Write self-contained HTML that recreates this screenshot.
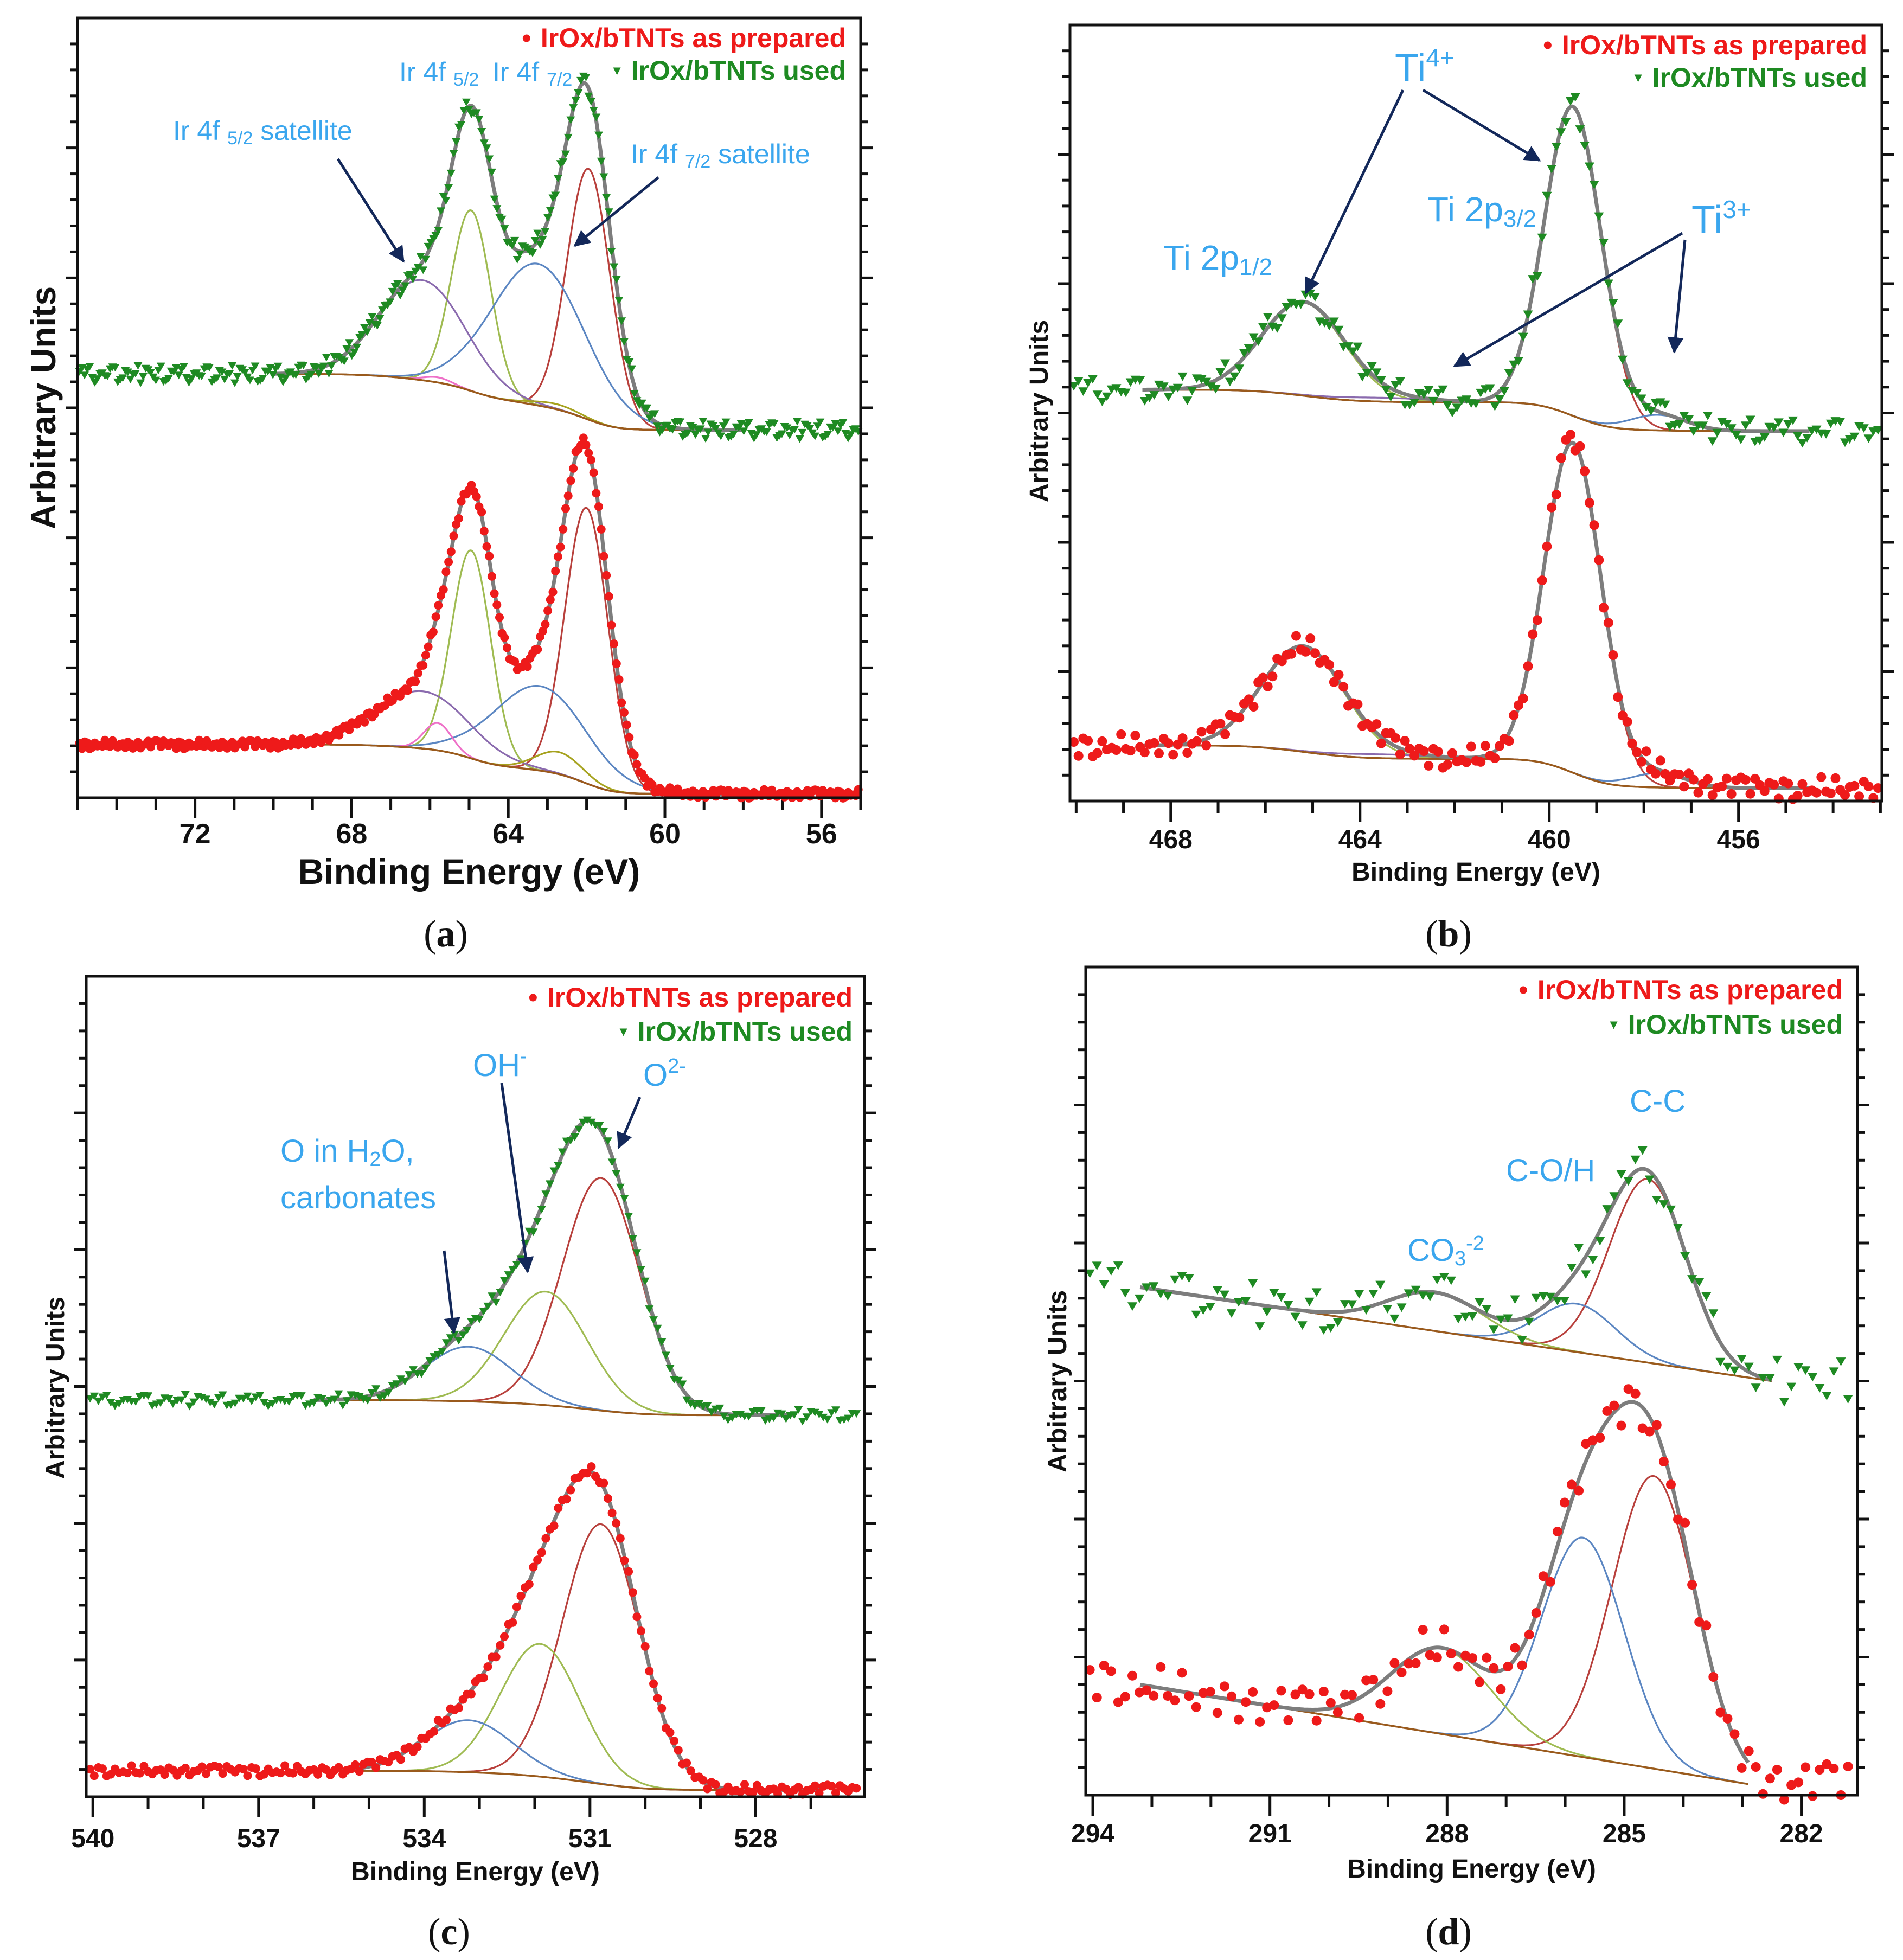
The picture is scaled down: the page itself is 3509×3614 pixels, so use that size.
<!DOCTYPE html>
<html><head><meta charset="utf-8"><title>XPS spectra IrOx/bTNTs</title>
<style>
html,body{margin:0;padding:0;background:#fff;}
svg{display:block;}
text{font-family:"Liberation Sans",Arial,sans-serif;}
</style></head>
<body>
<svg id="chart" xmlns="http://www.w3.org/2000/svg" width="3509" height="3614" viewBox="0 0 3509 3614">
<defs>
<marker id="ah" viewBox="0 0 10 10" refX="9" refY="5" markerWidth="6" markerHeight="6" orient="auto-start-reverse" markerUnits="strokeWidth"><path d="M0,0 L10,5 L0,10 Z" fill="#13285a"/></marker>
</defs>
<rect x="0" y="0" width="3509" height="3614" fill="#fff"/>
</svg>
<script>
// ---------- data ----------
const noisePattern=[0.3,-0.6,0.9,-0.2,0.5,-0.9,0.1,0.7,-0.4,-0.8,0.6,0.2,-0.5,0.95,-0.1,0.4,-0.7,0.8,-0.3,0.05,-0.95,0.55,0.25,-0.45,0.75,-0.65,0.15,-0.25,0.85,-0.55,0.35,-0.85,0.45,-0.15,0.65,-0.35,0.0];

// panel (a) Ir 4f
const aXTickLabels=[72,68,64,60,56];
const aUsedCenters=[61.95,64.95,63.25,66.2,65.8,62.8];
const aUsedHeights=[19.3,13.9,10.9,7.7,0.4,0.4];
const aUsedSigmas=[0.55,0.5,1.2,1.1,0.35,0.6];
const aUsedBg=[32.6,28.3];
const aPrepCenters=[62.0,64.95,63.2,66.2,65.8,62.7];
const aPrepHeights=[21.2,16.0,6.5,4.4,2.1,1.7];
const aPrepSigmas=[0.55,0.5,1.2,1.2,0.35,0.6];
const aPrepBg=[4.1,0.3];

// panel (b) Ti 2p
const bXTickLabels=[468,464,460,456];
const bUsedCenters=[459.5,465.2,457.7,463.5];
const bUsedHeights=[23.9,7.2,1.2,0.3];
const bUsedSigmas=[0.6,0.87,0.6,1.0];
const bUsedBg=[31.8,28.6];
const bPrepCenters=[459.5,465.2,457.7,463.5];
const bPrepHeights=[25.5,8.1,1.1,0.3];
const bPrepSigmas=[0.6,0.87,0.6,1.0];
const bPrepBg=[4.3,1.0];

// panel (c) O 1s
const cXTickLabels=[540,537,534,531,528];
const cUsedCenters=[530.8,531.8,533.2];
const cUsedHeights=[17.0,8.3,4.0];
const cUsedSigmas=[0.7,0.75,0.8];
const cUsedBg=[29.0,27.9];
const cPrepCenters=[530.8,531.9,533.2];
const cPrepHeights=[19.0,9.7,3.8];
const cPrepSigmas=[0.7,0.72,0.8];
const cPrepBg=[1.9,0.5];

// panel (d) C 1s
const dXTickLabels=[294,291,288,285,282];
const dUsedCenters=[284.6,285.8,288.2];
const dUsedHeights=[13.3,3.5,2.8];
const dUsedSigmas=[0.65,0.65,0.8];
const dUsedBg=[36.8,30.0];
const dPrepCenters=[284.5,285.7,288.1];
const dPrepHeights=[21.2,15.9,6.2];
const dPrepSigmas=[0.7,0.7,0.85];
const dPrepBg=[8.0,0.8];

// ---------- rendering ----------
const NS='http://www.w3.org/2000/svg';
const svg=document.getElementById('chart');
function mk(tag,attrs,parent){const e=document.createElementNS(NS,tag);for(const k in attrs)e.setAttribute(k,attrs[k]);(parent||svg).appendChild(e);return e;}
function gauss(x,c,h,s){return h*Math.exp(-(x-c)*(x-c)/(2*s*s));}
function peakSum(x,C,H,S){let t=0;for(let i=0;i<C.length;i++)t+=gauss(x,C[i],H[i],S[i]);return t;}
function makeBg(type,C,H,S,xl,xr,L,R){
  if(type==='linear'){return x=>{const xx=Math.max(xr,x);return R+(L-R)*(xx-xr)/(xl-xr);};}
  const N=800,cum=[0];
  for(let i=1;i<=N;i++){const x=xr+(xl-xr)*i/N;cum.push(cum[i-1]+peakSum(x,C,H,S));}
  const tot=cum[N];
  return x=>{if(x>=xl)return L;if(x<=xr)return R;const i=Math.round((x-xr)/(xl-xr)*N);return R+(L-R)*cum[i]/tot;};
}
const compColors=['#b8403c','#9fbb52','#5b86c2','#8a6aae','#ee70c8','#a6a21e'];
const compColorsD=['#b8403c','#5b86c2','#9fbb52'];

function drawPanel(P){
  const g=mk('g',{});
  
  
  const colors=P.colors||compColors;
  const X=x=>P.bx0+(P.xl-x)/(P.xl-P.xr)*(P.bx1-P.bx0);
  const Y=v=>P.by1-v/P.yMax*(P.by1-P.by0);
  for(let e=Math.ceil(P.xr);e<=Math.floor(P.xl);e++){
    const maj=P.xLabels.indexOf(e)>=0;
    const t=mk('line',{x1:X(e),x2:X(e),y1:P.by1,y2:P.by1+(maj?38:22),stroke:'#111','stroke-width':5},g);
    
    
  }
  P.xLabels.forEach(v=>{
    const t=mk('text',{x:X(v),y:P.tickY,'text-anchor':'middle','font-size':P.tickFs,'font-weight':'bold',fill:'#111'},g);
    t.textContent=v;
    
    
  });
  for(let v=2;v<P.yMax-0.5;v+=2){
    const maj=(v%10===0);const len=maj?22:14;
    const l=mk('line',{x1:P.bx0-len,x2:P.bx0,y1:Y(v),y2:Y(v),stroke:'#111','stroke-width':5},g);
    
    
    const r=mk('line',{x1:P.bx1,x2:P.bx1+len,y1:Y(v),y2:Y(v),stroke:'#111','stroke-width':5},g);
    
    
  }
  P.series.forEach(s=>{
    const bg=makeBg(P.bgType,s.C,s.H,s.S,s.fl,s.fr,s.bg[0],s.bg[1]);
    const path=f=>{let d='';const n=400;for(let i=0;i<=n;i++){const x=s.fl-(s.fl-s.fr)*i/n;d+=(i?'L':'M')+X(x).toFixed(1)+','+Y(f(x)).toFixed(1);}return d;};
    s.C.forEach((c,i)=>{
      const p=mk('path',{d:path(x=>bg(x)+gauss(x,c,s.H[i],s.S[i])),fill:'none',stroke:colors[i],'stroke-width':3.2},g);
      
      
    });
    const b=mk('path',{d:path(bg),fill:'none',stroke:'#9a5a1c','stroke-width':3.5},g);
    
    
    const env=mk('path',{d:path(x=>bg(x)+peakSum(x,s.C,s.H,s.S)),fill:'none',stroke:'#7d7d7d','stroke-width':7,'stroke-linejoin':'round'},g);
    
    
    let k=0;
    for(let x=s.pl;x>=s.pr;x-=s.step){
      const v=bg(x)+peakSum(x,s.C,s.H,s.S)+noisePattern[k%noisePattern.length]*s.noise;
      k+=s.used?7:5;
      const px=X(x),py=Y(v);
      let m;
      if(s.used){m=mk('path',{d:`M${(px-P.ms).toFixed(1)},${(py-P.ms*0.75).toFixed(1)}L${(px+P.ms).toFixed(1)},${(py-P.ms*0.75).toFixed(1)}L${px.toFixed(1)},${(py+P.ms).toFixed(1)}Z`,fill:'#1e8a22'},g);}
      else{m=mk('circle',{cx:px.toFixed(1),cy:py.toFixed(1),r:P.ms,fill:'#ee1a1a'},g);}
      
      
    }
  });
  const fr=mk('rect',{x:P.bx0,y:P.by0,width:P.bx1-P.bx0,height:P.by1-P.by0,fill:'none',stroke:'#111','stroke-width':5},g);
  
  
  const xt=mk('text',{x:(P.bx0+P.bx1)/2,y:P.titleY,'text-anchor':'middle','font-size':P.titleFs,'font-weight':'bold',fill:'#111'},g);
  xt.textContent='Binding Energy (eV)';
  
  
  const yt=mk('text',{x:0,y:0,'text-anchor':'middle','font-size':P.yTitleFs,'font-weight':'bold',fill:'#111',transform:`translate(${P.yTitleX},${P.yTitleY}) rotate(-90)`},g);
  yt.textContent='Arbitrary Units';
  
  
  const l1=mk('text',{x:P.legX,y:P.legY1,'text-anchor':'end','font-size':P.legFs,'font-weight':'bold',fill:'#ee1a1a'},g);
  l1.textContent='IrOx/bTNTs as prepared';
  
  
  const l2=mk('text',{x:P.legX,y:P.legY2,'text-anchor':'end','font-size':P.legFs,'font-weight':'bold',fill:'#1e8a22'},g);
  l2.textContent='IrOx/bTNTs used';
  
  
  const w1=l1.getComputedTextLength(),w2=l2.getComputedTextLength();
  const d1=mk('circle',{cx:P.legX-w1-26,cy:P.legY1-P.legFs*0.33,r:7,fill:'#ee1a1a'},g);
  
  
  const tx=P.legX-w2-26,ty=P.legY2-P.legFs*0.33;
  const d2=mk('path',{d:`M${tx-7},${ty-6}L${tx+7},${ty-6}L${tx},${ty+8}Z`,fill:'#1e8a22'},g);
  
  
  const cap=mk('text',{x:P.capX,y:P.capY,'text-anchor':'middle','font-size':70,fill:'#111',style:'font-family:"Liberation Serif","DejaVu Serif",serif'},g);
  cap.innerHTML='(<tspan font-weight="bold">'+P.capLetter+'</tspan>)';
  
  
}

function ann(html,x,y,fs,name){
  const t=mk('text',{x:x,y:y,'font-size':fs,fill:'#3aa6ee'});
  t.innerHTML=html;
  
  
}
function arrow(x1,y1,x2,y2,name){
  const a=mk('line',{x1:x1,y1:y1,x2:x2,y2:y2,stroke:'#13285a','stroke-width':5,'marker-end':'url(#ah)'});
  
  
}

drawPanel({name:'panel-a-ir4f',xl:75,xr:55,bx0:143,bx1:1587,by0:33,by1:1471,yMax:60,xLabels:aXTickLabels,
  tickY:1555,tickFs:52,titleY:1630,titleFs:66,yTitleX:102,yTitleY:752,yTitleFs:64,legX:1560,legY1:87,legY2:147,legFs:50,
  capX:822,capY:1745,capLetter:'a',bgType:'shirley',ms:8,
  series:[
   {key:'used',used:true,C:aUsedCenters,H:aUsedHeights,S:aUsedSigmas,bg:aUsedBg,fl:70,fr:58,pl:74.95,pr:55.05,step:0.065,noise:0.7},
   {key:'prepared',used:false,C:aPrepCenters,H:aPrepHeights,S:aPrepSigmas,bg:aPrepBg,fl:69,fr:57.5,pl:74.95,pr:55.05,step:0.065,noise:0.35}]});

drawPanel({name:'panel-b-ti2p',xl:470.13,xr:452.97,bx0:1973,bx1:3470,by0:46,by1:1477,yMax:60,xLabels:bXTickLabels,
  tickY:1564,tickFs:48,titleY:1624,titleFs:48,yTitleX:1932,yTitleY:758,yTitleFs:48,legX:3443,legY1:100,legY2:160,legFs:50,
  capX:2671,capY:1745,capLetter:'b',bgType:'shirley',ms:9,
  series:[
   {key:'used',used:true,C:bUsedCenters,H:bUsedHeights,S:bUsedSigmas,bg:bUsedBg,fl:468.6,fr:454.5,pl:470.05,pr:453.0,step:0.1,noise:1.0},
   {key:'prepared',used:false,C:bPrepCenters,H:bPrepHeights,S:bPrepSigmas,bg:bPrepBg,fl:468.6,fr:454.5,pl:470.05,pr:453.0,step:0.1,noise:0.9}]});

drawPanel({name:'panel-c-o1s',xl:540.12,xr:526.03,bx0:159,bx1:1594,by0:1800,by1:3313,yMax:60,xLabels:cXTickLabels,
  tickY:3406,tickFs:48,titleY:3467,titleFs:48,yTitleX:118,yTitleY:2559,yTitleFs:48,legX:1572,legY1:1856,legY2:1919,legFs:50,
  capX:828,capY:3585,capLetter:'c',bgType:'shirley',ms:8,
  series:[
   {key:'used',used:true,C:cUsedCenters,H:cUsedHeights,S:cUsedSigmas,bg:cUsedBg,fl:536,fr:527.3,pl:540.05,pr:526.1,step:0.075,noise:0.45},
   {key:'prepared',used:false,C:cPrepCenters,H:cPrepHeights,S:cPrepSigmas,bg:cPrepBg,fl:536,fr:526.8,pl:540.05,pr:526.1,step:0.075,noise:0.4}]});

drawPanel({name:'panel-d-c1s',xl:294.12,xr:281.05,bx0:2002,bx1:3425,by0:1783,by1:3310,yMax:60,xLabels:dXTickLabels,
  tickY:3397,tickFs:48,titleY:3462,titleFs:48,yTitleX:1966,yTitleY:2547,yTitleFs:48,legX:3398,legY1:1842,legY2:1906,legFs:50,
  capX:2671,capY:3585,capLetter:'d',bgType:'linear',ms:9,colors:compColorsD,
  series:[
   {key:'used',used:true,C:dUsedCenters,H:dUsedHeights,S:dUsedSigmas,bg:dUsedBg,fl:293.2,fr:282.5,pl:294.05,pr:281.2,step:0.12,noise:1.6},
   {key:'prepared',used:false,C:dPrepCenters,H:dPrepHeights,S:dPrepSigmas,bg:dPrepBg,fl:293.2,fr:282.9,pl:294.05,pr:281.2,step:0.12,noise:1.6}]});

ann('Ir 4f <tspan font-size="34" dy="8">5/2</tspan>',736,150,50,'label-ir4f52');
ann('Ir 4f <tspan font-size="34" dy="8">7/2</tspan>',908,150,50,'label-ir4f72');
ann('Ir 4f <tspan font-size="34" dy="8">5/2</tspan><tspan dy="-8"> satellite</tspan>',319,258,50,'label-ir4f52-satellite');
ann('Ir 4f <tspan font-size="34" dy="8">7/2</tspan><tspan dy="-8"> satellite</tspan>',1163,301,50,'label-ir4f72-satellite');
arrow(623,293,744,482,'arrow-ir4f52-satellite');
arrow(1214,327,1060,453,'arrow-ir4f72-satellite');
ann('Ti<tspan font-size="46" dy="-28">4+</tspan>',2572,150,72,'label-ti4plus');
ann('Ti 2p<tspan font-size="44" dy="10">1/2</tspan>',2145,497,64,'label-ti2p12');
ann('Ti 2p<tspan font-size="44" dy="10">3/2</tspan>',2632,408,64,'label-ti2p32');
ann('Ti<tspan font-size="46" dy="-28">3+</tspan>',3119,430,72,'label-ti3plus');
arrow(2587,166,2408,540,'arrow-ti4plus-2p12');
arrow(2624,166,2839,296,'arrow-ti4plus-2p32');
arrow(3102,430,2682,675,'arrow-ti3plus-left');
arrow(3107,442,3087,649,'arrow-ti3plus-right');
ann('OH<tspan font-size="38" dy="-24">-</tspan>',872,1984,58,'label-oh');
ann('O<tspan font-size="38" dy="-24">2-</tspan>',1186,2002,58,'label-o2minus');
ann('O in H<tspan font-size="38" dy="8">2</tspan><tspan dy="-8">O,</tspan>',517,2142,58,'label-o-in-h2o');
ann('carbonates',517,2228,58,'label-carbonates');
arrow(925,1997,973,2345,'arrow-oh');
arrow(1180,2023,1141,2116,'arrow-o2minus');
arrow(819,2306,837,2457,'arrow-h2o');
ann('C-C',3005,2050,58,'label-cc');
ann('C-O/H',2777,2178,58,'label-coh');
ann('CO<tspan font-size="38" dy="8">3</tspan><tspan font-size="38" dy="-28">-2</tspan>',2595,2325,58,'label-co3');
</script>
</body></html>
